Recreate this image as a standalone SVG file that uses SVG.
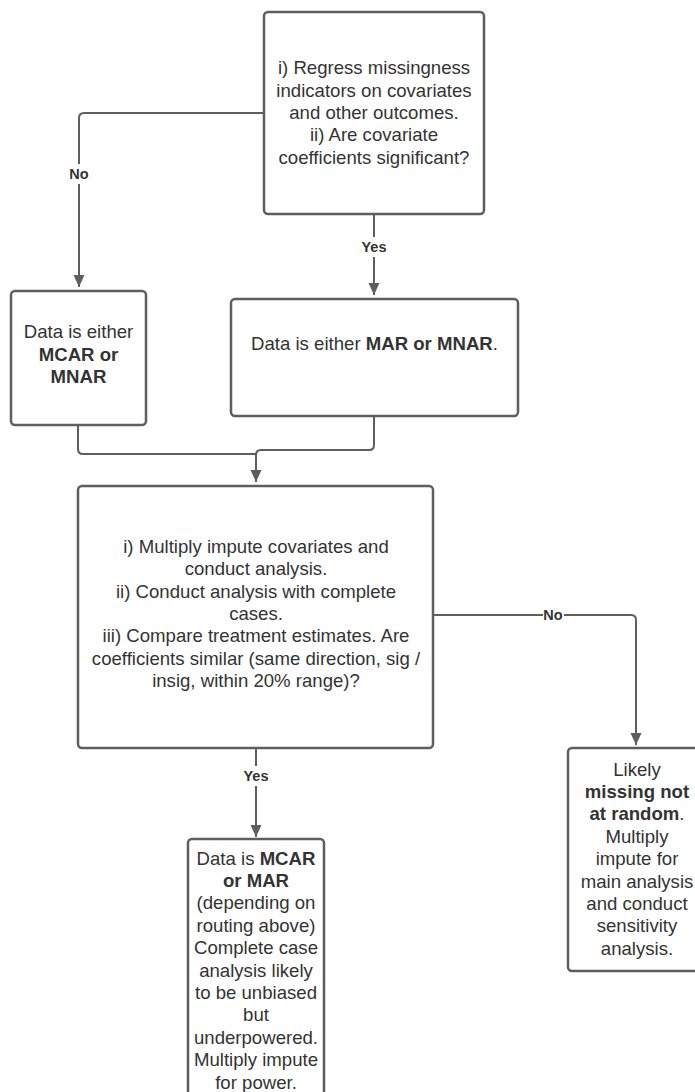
<svg xmlns="http://www.w3.org/2000/svg" width="695" height="1092" viewBox="0 0 695 1092">
<style>
.box{fill:#ffffff;stroke:#5e5e5e;stroke-width:2.5}
.t{font-family:"Liberation Sans",Arial,sans-serif;font-size:18.6px;fill:#333333;text-anchor:middle}
.b{font-weight:bold}
.edge{fill:none;stroke:#5e5e5e;stroke-width:2}
.lbl{font-family:"Liberation Sans",Arial,sans-serif;font-size:14.5px;font-weight:bold;fill:#333333;text-anchor:middle}
.lb{fill:#ffffff}
</style>
<defs>
<marker id="arr" viewBox="0 0 12 12" refX="12" refY="6" markerWidth="12" markerHeight="12" markerUnits="userSpaceOnUse" orient="auto">
<path d="M0,0.5 L12,6 L0,11.5 Z" fill="#5e5e5e"/>
</marker>
</defs>
<rect width="695" height="1092" fill="#ffffff"/>
<g id="connectors">
<path class="edge" d="M264,113 H84 Q79,113 79,118 V287" marker-end="url(#arr)"/>
<rect class="lb" x="66" y="164" width="26" height="20"/>
<text class="lbl" x="79" y="179">No</text>
<path class="edge" d="M374,214 V295" marker-end="url(#arr)"/>
<rect class="lb" x="360" y="237" width="28" height="20"/>
<text class="lbl" x="374" y="252">Yes</text>
<path class="edge" d="M78,425 V449 Q78,454 83,454 H256"/>
<path class="edge" d="M374,416 V445 Q374,450 369,450 H261 Q256,450 256,455 V482" marker-end="url(#arr)"/>
<path class="edge" d="M433,615 H631 Q636,615 636,620 V745" marker-end="url(#arr)"/>
<rect class="lb" x="543" y="606" width="21" height="18"/>
<text class="lbl" x="553" y="620">No</text>
<path class="edge" d="M256,748 V837" marker-end="url(#arr)"/>
<rect class="lb" x="242" y="766" width="28" height="20"/>
<text class="lbl" x="256" y="781">Yes</text>
</g>
<g id="node-regress">
<rect class="box" x="264" y="12" width="220" height="202" rx="4"/>
<text class="t"><tspan x="374" y="74">i) Regress missingness</tspan><tspan x="374" y="96.5">indicators on covariates</tspan><tspan x="374" y="119">and other outcomes.</tspan><tspan x="374" y="141.3">ii) Are covariate</tspan><tspan x="374" y="163.7">coefficients significant?</tspan></text>
</g>
<g id="node-mcar-mnar">
<rect class="box" x="11" y="291" width="135" height="134" rx="4"/>
<text class="t"><tspan x="78.5" y="338">Data is either</tspan><tspan class="b" x="78.5" y="360.5">MCAR or</tspan><tspan class="b" x="78.5" y="383">MNAR</tspan></text>
</g>
<g id="node-mar-mnar">
<rect class="box" x="231" y="299" width="287" height="117" rx="4"/>
<text class="t" x="374.5" y="349.5">Data is either <tspan class="b">MAR or MNAR</tspan>.</text>
</g>
<g id="node-impute">
<rect class="box" x="78" y="486" width="355" height="262" rx="4"/>
<text class="t"><tspan x="256" y="552.5">i) Multiply impute covariates and</tspan><tspan x="256" y="575">conduct analysis.</tspan><tspan x="256" y="597.5">ii) Conduct analysis with complete</tspan><tspan x="256" y="620">cases.</tspan><tspan x="256" y="642.3">iii) Compare treatment estimates. Are</tspan><tspan x="256" y="664.7">coefficients similar (same direction, sig /</tspan><tspan x="256" y="687">insig, within 20% range)?</tspan></text>
</g>
<g id="node-mnar">
<rect class="box" x="568" y="748" width="140" height="223" rx="4"/>
<text class="t"><tspan x="637" y="775.5">Likely</tspan><tspan class="b" x="637" y="797.9">missing not</tspan><tspan x="637" y="820.3"><tspan class="b">at random</tspan>.</tspan><tspan x="637" y="842.7">Multiply</tspan><tspan x="637" y="865.1">impute for</tspan><tspan x="637" y="887.5">main analysis</tspan><tspan x="637" y="909.9">and conduct</tspan><tspan x="637" y="932.3">sensitivity</tspan><tspan x="637" y="954.7">analysis.</tspan></text>
</g>
<g id="node-mcar-mar">
<rect class="box" x="188" y="839" width="136" height="270" rx="4"/>
<text class="t"><tspan x="256" y="864.5">Data is <tspan class="b">MCAR</tspan></tspan><tspan class="b" x="256" y="886.9">or MAR</tspan><tspan x="256" y="909.3">(depending on</tspan><tspan x="256" y="931.7">routing above)</tspan><tspan x="256" y="954.1">Complete case</tspan><tspan x="256" y="976.5">analysis likely</tspan><tspan x="256" y="998.9">to be unbiased</tspan><tspan x="256" y="1021.3">but</tspan><tspan x="256" y="1043.7">underpowered.</tspan><tspan x="256" y="1066.1">Multiply impute</tspan><tspan x="256" y="1088.5">for power.</tspan></text>
</g>
</svg>
